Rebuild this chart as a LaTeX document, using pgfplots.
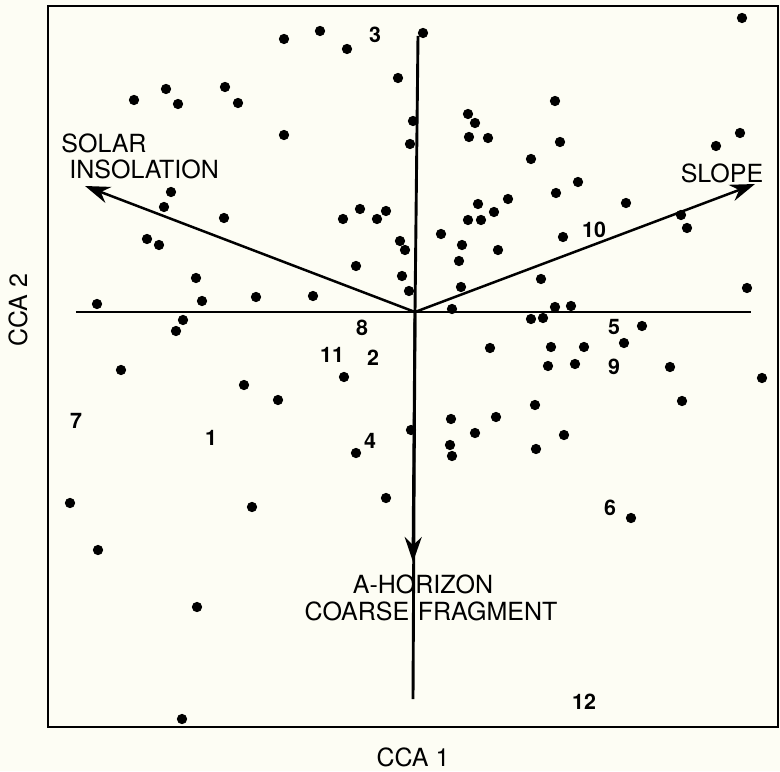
\documentclass[border=0pt]{standalone}
\usepackage{fontspec}
\setmainfont{TeX Gyre Heros}
\usepackage{pgfplots}
\pgfplotsset{compat=1.18}
\usetikzlibrary{arrows.meta}
\definecolor{paper}{RGB}{253,253,244}
\begin{document}
\begin{tikzpicture}
\begin{axis}[
  scale only axis, width=365bp, height=360.5bp,
  xmin=48, xmax=778, ymin=6, ymax=727, y dir=reverse,
  axis line style={line width=1.45bp},
  ticks=none, clip=false, set layers,
]
\begin{pgfonlayer}{axis background}
\fill[paper] (axis cs:0,771) rectangle (axis cs:780,0);
\end{pgfonlayer}
\coordinate (BL) at (axis cs:0,771);
\coordinate (TR) at (axis cs:780,0);
% axes of the biplot
\addplot[line width=1.45bp] coordinates {(76,312) (751,312)};
\addplot[line width=1.45bp] coordinates {(418,36) (415,312) (413,699)};
\addplot[line width=1.45bp, -{Stealth[length=12.5bp,width=8.5bp]}] coordinates {(415,312) (413,562)};
\addplot[line width=1.25bp, -{Stealth[length=12.5bp,width=8.5bp]}] coordinates {(415,312) (85,186)};
\addplot[line width=1.25bp, -{Stealth[length=12.5bp,width=8.5bp]}] coordinates {(415,312) (755,184)};
% sample scores
\addplot[only marks, mark=*, mark size=2.35bp, black] table {
x y
134 100
166 89
178 104
225 87
238 103
171 192
164 207
224 218
147 239
159 245
196 278
202 301
256 297
313 296
183 320
176 331
97 304
121 370
244 385
70 503
252 507
98 550
197 607
182 719
284 39
320 31
347 49
423 33
398 78
413 121
410 144
284 135
343 219
360 209
377 219
386 211
400 241
405 250
356 266
402 276
409 291
441 234
478 204
508 199
494 212
468 220
481 220
462 245
498 250
459 261
461 287
452 309
468 114
475 123
469 137
488 138
555 101
560 142
531 159
578 182
556 193
626 203
716 146
740 133
742 18
681 215
687 228
563 237
541 279
747 288
490 348
344 377
278 400
411 430
451 419
496 417
475 433
450 445
452 456
356 453
386 498
555 307
571 306
531 319
543 318
642 326
624 343
551 347
584 347
548 366
575 364
670 367
762 378
682 401
535 405
564 435
536 449
631 518
};
% group labels
\begin{scope}[every node/.style={font=\bfseries\fontsize{10.7bp}{12bp}\selectfont, inner sep=0pt}]
\node at (axis cs:375,35) {3};
\node at (axis cs:594,230) {10};
\node at (axis cs:362,328) {8};
\node at (axis cs:332,355) {11};
\node at (axis cs:373,358) {2};
\node at (axis cs:370,441) {4};
\node at (axis cs:614,327) {5};
\node at (axis cs:614,367) {9};
\node at (axis cs:610,508) {6};
\node at (axis cs:76,421) {7};
\node at (axis cs:211,438) {1};
\node at (axis cs:584,702) {12};
\end{scope}
\begin{scope}[every node/.style={font=\fontsize{12.5bp}{14bp}\selectfont, inner sep=0pt}]
\node[anchor=west] at (axis cs:61,143) {SOLAR};
\node[anchor=west] at (axis cs:69,169) {INSOLATION};
\node at (axis cs:722,173) {SLOPE};
\node at (axis cs:423,584) {A-HORIZON};
\node at (axis cs:431,611) {COARSE\hspace{0.35em}FRAGMENT};
\node at (axis cs:413,757) {CCA 1};
\node[rotate=90] at (axis cs:18,310) {CCA 2};
\end{scope}
\end{axis}
\pgfresetboundingbox
\path[use as bounding box] (BL) rectangle (TR);
\end{tikzpicture}
\end{document}
